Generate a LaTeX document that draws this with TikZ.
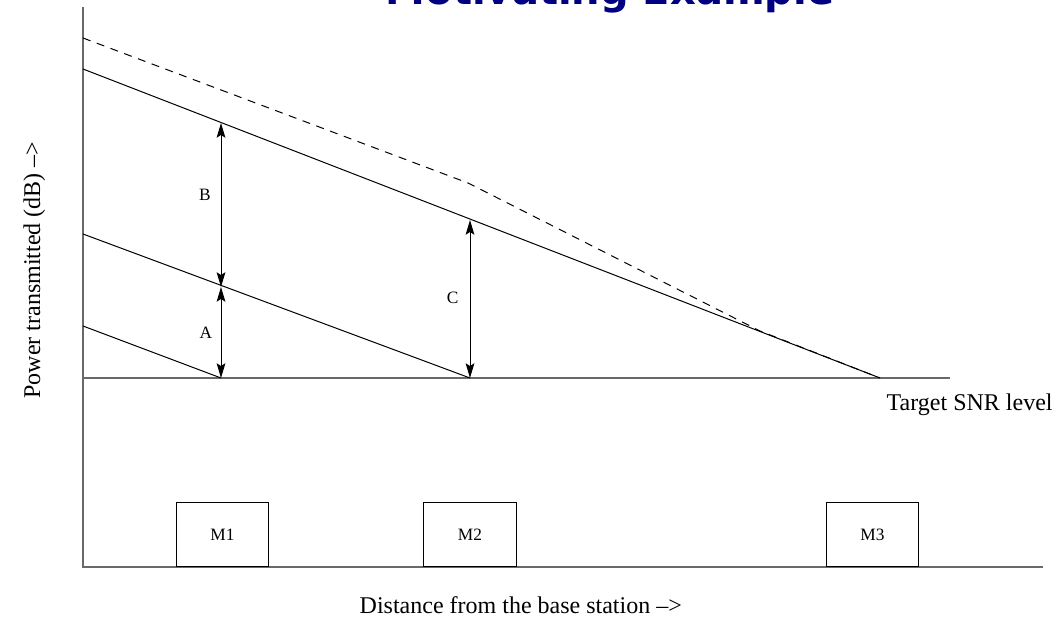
\documentclass[tikz,border=0pt]{standalone}
\usepackage{fontspec}
\setmainfont{Liberation Serif}
\newfontfamily\titlefont{DejaVu Sans}
\definecolor{TitleBlue}{RGB}{0,0,128}
\definecolor{AxisGray}{RGB}{105,105,105}
\usetikzlibrary{arrows.meta, positioning}

\begin{document}
\begin{tikzpicture}[x=0.75pt, y=-0.75pt,
    axis/.style={AxisGray, line width=1.1pt},
    level/.style={black, line width=0.75pt},
    gap/.style={{Stealth[length=11pt,width=6.5pt,inset=2pt]}-{Stealth[length=11pt,width=6.5pt,inset=2pt]}, line width=0.75pt},
    small/.style={font=\fontsize{13}{15}\selectfont},
    big/.style={font=\fontsize{18}{21}\selectfont},
    mobile/.style={draw, small, line width=0.75pt, minimum width=69.5pt, minimum height=48pt, inner sep=0pt, anchor=south}]
  \useasboundingbox (0,0) rectangle (1055,623);
  % title, only its lower part is on the page
  \node[font=\titlefont\bfseries\fontsize{30}{36}\selectfont, text=TitleBlue, anchor=base] (title) at (610,5) {Motivating Example};
  % axes and target level
  \coordinate (origin) at (83,567);
  \coordinate (ytop) at (83,7);
  \coordinate (xend) at (1043,567);
  \coordinate (t0) at (83,378);
  \coordinate (t1) at (950,378);
  \draw[axis] (ytop) -- (origin) -- (xend);
  \draw[axis] (t0) -- (t1);
  % points where the levels meet the target
  \coordinate (m1) at (221,378);
  \coordinate (m2) at (470,378);
  \coordinate (m3) at (880,378);
  % power levels
  \coordinate (p1) at (83,326);
  \coordinate (p2) at (83,234);
  \coordinate (p3) at (83,69);
  \coordinate (q2) at (221,287);
  \coordinate (q3) at (221,123);
  \coordinate (r3) at (470,220);
  \draw[level] (p1) -- (m1);
  \draw[level] (p2) -- (m2);
  \draw[level] (p3) -- (m3);
  \draw[level, dashed, dash pattern=on 6pt off 5pt] (83,38) -- (468,183) -- (760,331) -- (m3);
  % differences
  \draw[gap] (q3) -- node[small, pos=0.44, left=4pt] (lb) {B} (q2);
  \draw[gap] (q2) -- node[small, left=3pt] (la) {A} (m1);
  \draw[gap] (r3) -- node[small, pos=0.49, left=5pt] (lc) {C} (m2);
  % mobiles
  \node[mobile] (M1) at (222.5,567) {M1};
  \node[mobile] (M2) at (470,567) {M2};
  \node[mobile] (M3) at (872.5,567) {M3};
  % labels
  \node[big, anchor=base west] (target) at (882,410) {Target SNR level};
  \node[big, rotate=90, anchor=base] (ylab) at (40,270) {Power transmitted (dB) --{}>};
  \node[big, anchor=base west] (xlab) at (355,613) {Distance from the base station --{}>};
\end{tikzpicture}
\end{document}
